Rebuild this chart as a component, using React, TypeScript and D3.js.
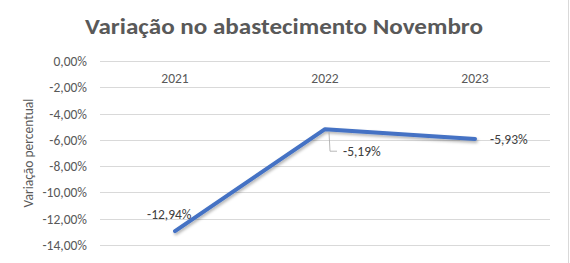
import React from "react";
import * as d3 from "d3";

const categories = ["2021", "2022", "2023"];
const values = [-12.94, -5.19, -5.93];
const yTicks = [0, -2, -4, -6, -8, -10, -12, -14];

const W = 570, H = 263;
const fmt = (v: number) => v.toFixed(2).replace(".", ",") + "%";

export default function App() {
  const x = d3.scaleBand().domain(categories).range([100, 550]);
  const y = d3.scaleLinear().domain([-14, 0]).range([245, 61]);
  const cx = (c: string) => (x(c) as number) + x.bandwidth() / 2;
  const line = d3.line<number>().x((_, i) => cx(categories[i])).y((d) => y(d));
  const font = "Calibri, Carlito, 'Open Sans', sans-serif";
  const fs = 13.5;
  return (
    <svg width={W} height={H} style={{ position: "absolute", left: 0, top: 0, background: "#fff" }} fontFamily={font}>
      <defs>
        <filter id="sh" x="-10%" y="-10%" width="120%" height="130%">
          <feDropShadow dx="1" dy="2" stdDeviation="1.5" floodColor="#000" floodOpacity="0.3" />
        </filter>
      </defs>
      <rect width={W} height={H} fill="#fff" />
      <line x1={568.5} x2={568.5} y1={0} y2={H} stroke="#d9d9d9" />
      <text x={284} y={34} textAnchor="middle" fontSize={23} fontWeight={600} fill="#595959" textLength={398} lengthAdjust="spacingAndGlyphs">
        Variação no abastecimento Novembro
      </text>
      {yTicks.map((t) => (
        <g key={t}>
          <line x1={100} x2={550} y1={Math.round(y(t)) + 0.5} y2={Math.round(y(t)) + 0.5} stroke="#d9d9d9" />
          <text x={87} y={y(t) + 5} textAnchor="end" fontSize={fs} fill="#595959">{fmt(t)}</text>
        </g>
      ))}
      {categories.map((c) => (
        <text key={c} x={cx(c)} y={83} textAnchor="middle" fontSize={fs} fill="#595959">{c}</text>
      ))}
      <text transform="translate(33,153) rotate(-90)" textAnchor="middle" fontSize={fs} fill="#595959">Variação percentual</text>
      <path d={line(values) || ""} fill="none" stroke="#4472C4" strokeWidth={4} strokeLinecap="round" strokeLinejoin="round" filter="url(#sh)" />
      {/* data labels */}
      <text x={cx(categories[0]) - 28} y={y(values[0]) - 12} fontSize={fs} fill="#404040">{fmt(values[0])}</text>
      <polyline points={`${cx(categories[1]) + 4},${y(values[1]) + 3} ${cx(categories[1]) + 5},${y(values[1]) + 22} ${cx(categories[1]) + 12},${y(values[1]) + 22}`} fill="none" stroke="#a6a6a6" strokeWidth={0.8} />
      <text x={cx(categories[1]) + 18} y={y(values[1]) + 27} fontSize={fs} fill="#404040">{fmt(values[1])}</text>
      <text x={cx(categories[2]) + 15} y={y(values[2]) + 5} fontSize={fs} fill="#404040">{fmt(values[2])}</text>
    </svg>
  );
}
